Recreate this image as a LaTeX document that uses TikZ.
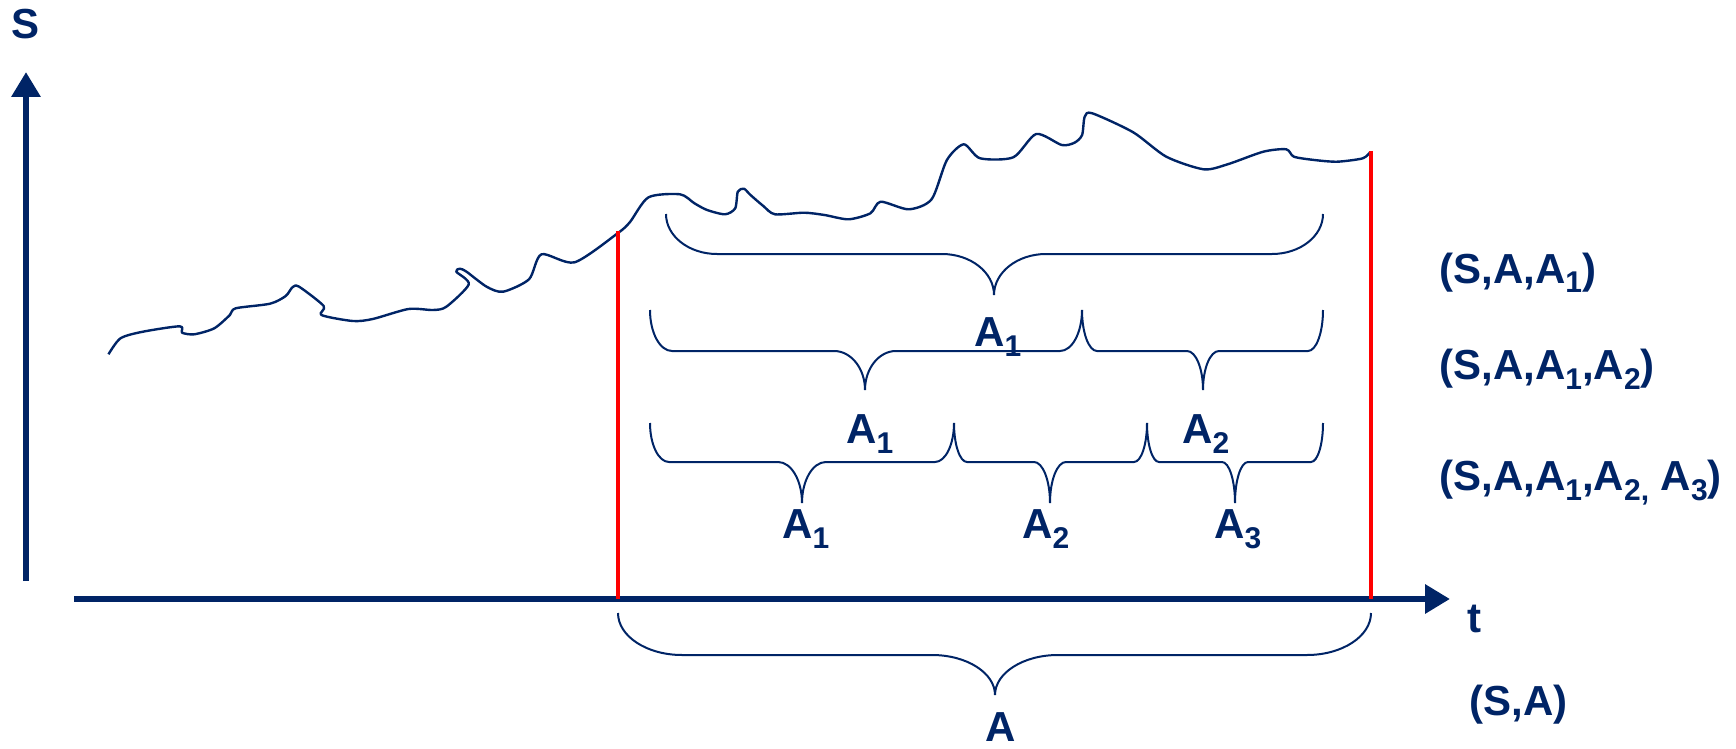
\documentclass[tikz,border=0pt]{standalone}
\usepackage{fontspec}
\setmainfont{Liberation Sans}
\usetikzlibrary{arrows.meta}
\definecolor{navy}{RGB}{0,36,102}
% lowered, smaller index digit
\newcommand\lowidx[1]{\raisebox{-5pt}{\fontsize{15}{15}\selectfont #1}}
% curly brace opening upwards: left x, right x, tip x, top y, bar y, tip y, end corner width, middle half width
\newcommand\curly[8]{%
  \draw[bracestyle] (#1,#4) .. controls (#1,{#4+0.552*(#5-#4)}) and ({#1+0.448*#7},#5) .. ({#1+#7},#5)
    -- ({#3-#8},#5) .. controls ({#3-0.448*#8},#5) and (#3,{#5+0.448*(#6-#5)}) .. (#3,#6)
    .. controls (#3,{#5+0.448*(#6-#5)}) and ({#3+0.448*#8},#5) .. ({#3+#8},#5)
    -- ({#2-#7},#5) .. controls ({#2-0.448*#7},#5) and (#2,{#4+0.552*(#5-#4)}) .. (#2,#4);}
\begin{document}
\begin{tikzpicture}[x=0.5pt,y=-0.5pt,
  axis/.style={draw=navy, line width=3.3pt, -{Triangle[length=12.5pt,width=14pt]}},
  redline/.style={draw=red, line width=1.9pt},
  bracestyle/.style={draw=navy, line width=1pt},
  pricepath/.style={draw=navy, line width=1.2pt, line join=round},
  lbl/.style={text=navy, font=\fontsize{21}{25}\selectfont\bfseries, inner sep=0pt, anchor=base west}]
\useasboundingbox (0,0) rectangle (1736,749);

% axes
\coordinate (ybot) at (26,581);
\coordinate (ytop) at (26,72);
\coordinate (xleft) at (74,599);
\coordinate (xright) at (1450,599);
\draw[axis] (ybot) -- (ytop);
\draw[axis] (xleft) -- (xright);
\node[lbl] (slabel) at (11,39) {S};
\node[lbl] (tlabel) at (1467,632) {t};

% price path
\draw[pricepath] plot[smooth, tension=0.45] coordinates {
 (108.5,354.3) (120.5,338.3) (142.9,331.7) (179.9,326.3) (182.1,332.7) (194.2,334.3)
 (214.3,328.3) (229.9,315) (235.7,308.3) (270.1,303.7) (285.7,296) (292.4,287.3)
 (299.1,286.7) (323.7,306) (321.4,315) (352.7,321) (372.8,319) (408.5,309) (433,310)
 (446.4,306.7) (468.8,284.3) (456.3,271.7) (459.8,268.7) (466.5,271.7) (486.6,286.7)
 (503.1,291.7) (529,279.3) (541.5,254.3) (574.6,262.3) (618,233) (630,222) (648.5,197.3)
 (680.1,194.3) (694.4,203.3) (707.1,210) (725,214.3) (735.2,208.3) (737.8,191.7)
 (743.9,188.7) (750.5,195) (763.3,206) (775,214.3) (804.1,212.7) (824.5,215)
 (848.5,219.3) (870.4,213.3) (880.6,201.7) (908.7,209.3) (931.6,199.3) (946.9,160)
 (963.8,144.3) (980.1,158.3) (1013.3,157.3) (1036.2,134) (1061.7,145) (1074.5,142.7)
 (1082.1,135) (1084.7,116.7) (1092.3,113.3) (1133.2,132.3) (1166.3,156.7)
 (1203.6,169.3) (1227.6,164.3) (1263.3,151.7) (1286.2,149.3) (1293.9,156.7)
 (1314.3,160) (1337.2,161.7) (1362.8,158.3) (1370.4,151.7)};

% interval boundaries
\coordinate (r1top) at (618,231);
\coordinate (r1bot) at (618,599);
\coordinate (r2top) at (1371,151);
\coordinate (r2bot) at (1371,599);
\draw[redline] (r1top) -- (r1bot);
\draw[redline] (r2top) -- (r2bot);

% whole interval A
\curly{618}{1371}{995}{613}{655}{695}{64}{63}
\node[lbl] (bigA) at (985,741) {A};
\node[lbl] (lab0) at (1469,715) {(S,A)};

% one sub-interval
\curly{666}{1323}{994}{214}{254}{295}{51}{52}
\node[lbl] (r1a1) at (974,346.7) {A\lowidx{1}};
\node[lbl] (lab1) at (1439,283) {(S,A,A\lowidx{1})};

% two sub-intervals
\curly{650}{1082}{865}{310}{351}{390}{22}{31}
\curly{1082}{1323}{1203}{310}{351}{390}{15}{16}
\node[lbl] (r2a1) at (846,443) {A\lowidx{1}};
\node[lbl] (r2a2) at (1182,443) {A\lowidx{2}};
\node[lbl] (lab2) at (1439,379) {(S,A,A\lowidx{1},A\lowidx{2})};

% three sub-intervals
\curly{650}{954}{802}{423}{462}{503}{19}{24}
\curly{954}{1147}{1050}{423}{462}{503}{13}{16}
\curly{1147}{1323}{1235}{423}{462}{503}{12}{13}
\node[lbl] (r3a1) at (782,538) {A\lowidx{1}};
\node[lbl] (r3a2) at (1022,538) {A\lowidx{2}};
\node[lbl] (r3a3) at (1214,538) {A\lowidx{3}};
\node[lbl] (lab3) at (1439,490) {(S,A,A\lowidx{1},A\lowidx{2,} A\lowidx{3})};
\end{tikzpicture}
\end{document}
